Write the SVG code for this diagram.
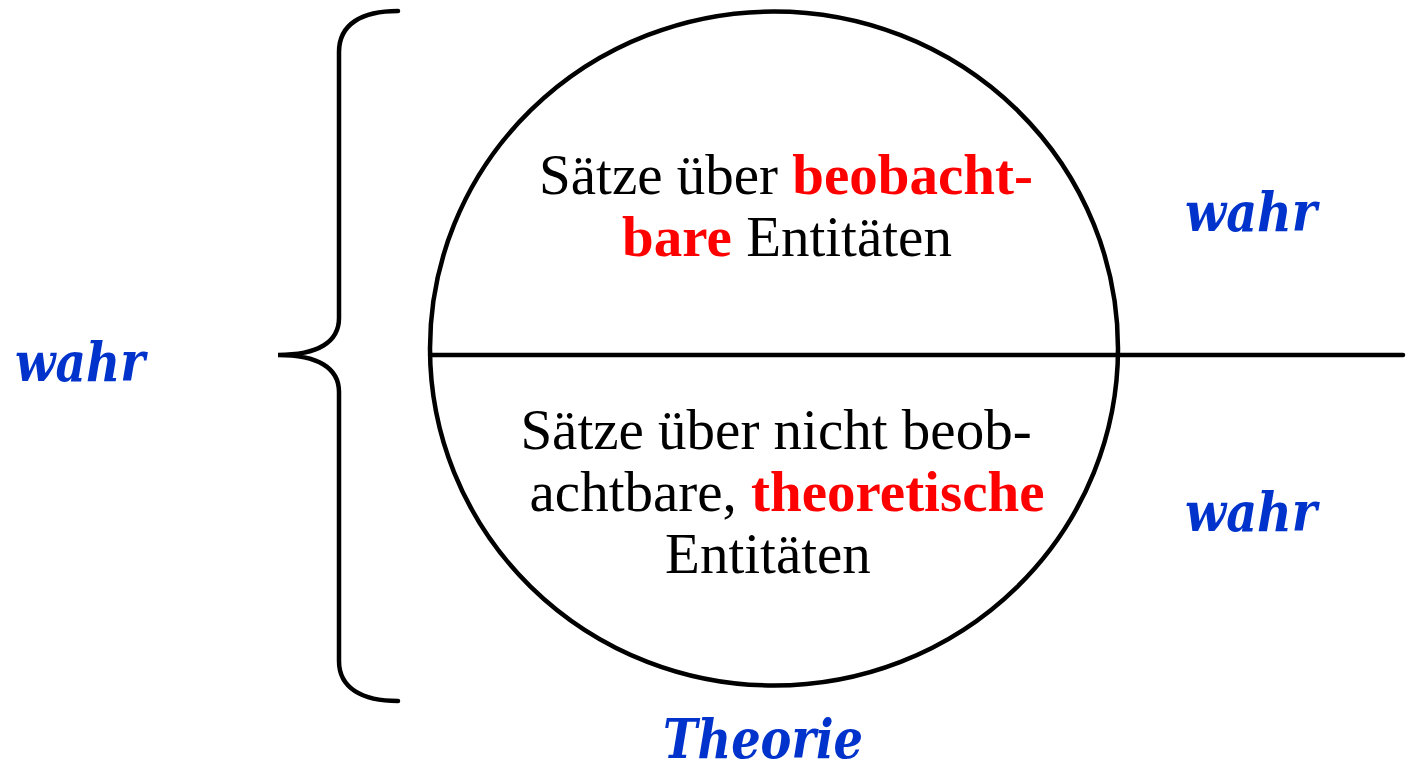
<svg xmlns="http://www.w3.org/2000/svg" width="1410" height="773" viewBox="0 0 1410 773">
  <style>
    .ln { fill: none; stroke: #000; stroke-width: 4.5; stroke-linecap: round; }
    .body { font-family: "Liberation Serif", "DejaVu Serif", serif; font-size: 57px; fill: #000; }
    .red { font-weight: bold; fill: #FF0000; }
    .blue { font-family: "DejaVu Serif", "Liberation Serif", serif; font-weight: bold; font-style: italic; font-size: 54px; fill: #0033CC; }
  </style>
  <rect width="1410" height="773" fill="#fff"/>
  <g id="connectors">
    <path class="ln" d="M430,355 L1403,355"/>
  </g>
  <g id="brace">
    <path class="ln" d="M398,11 C362,11 339,24 339,52 L339,318 C339,342 318,355 278,355 C318,355 339,368 339,392 L339,661 C339,688 362,701 398,701"/>
  </g>
  <g id="theorie-circle">
    <ellipse class="ln" cx="774" cy="348.5" rx="344" ry="337"/>
  </g>
  <g id="top-text">
    <text class="body" text-anchor="middle" x="786" y="194">Sätze über <tspan class="red">beobacht-</tspan></text>
    <text class="body" text-anchor="middle" x="787" y="256"><tspan class="red">bare</tspan> Entitäten</text>
  </g>
  <g id="bottom-text">
    <text class="body" text-anchor="middle" x="776" y="449">Sätze über nicht beob-</text>
    <text class="body" text-anchor="middle" x="787" y="511">achtbare, <tspan class="red">theoretische</tspan></text>
    <text class="body" text-anchor="middle" x="768" y="573">Entitäten</text>
  </g>
  <g id="label-left">
    <text class="blue" text-anchor="middle" x="80" y="381" textLength="130" lengthAdjust="spacingAndGlyphs">wahr</text>
  </g>
  <g id="label-right-top">
    <text class="blue" text-anchor="middle" x="1251" y="231" textLength="132" lengthAdjust="spacingAndGlyphs">wahr</text>
  </g>
  <g id="label-right-bottom">
    <text class="blue" text-anchor="middle" x="1251" y="531" textLength="132" lengthAdjust="spacingAndGlyphs">wahr</text>
  </g>
  <g id="label-theorie">
    <text class="blue" text-anchor="middle" x="763" y="758" font-size="50" textLength="200" lengthAdjust="spacingAndGlyphs">Theorie</text>
  </g>
</svg>
